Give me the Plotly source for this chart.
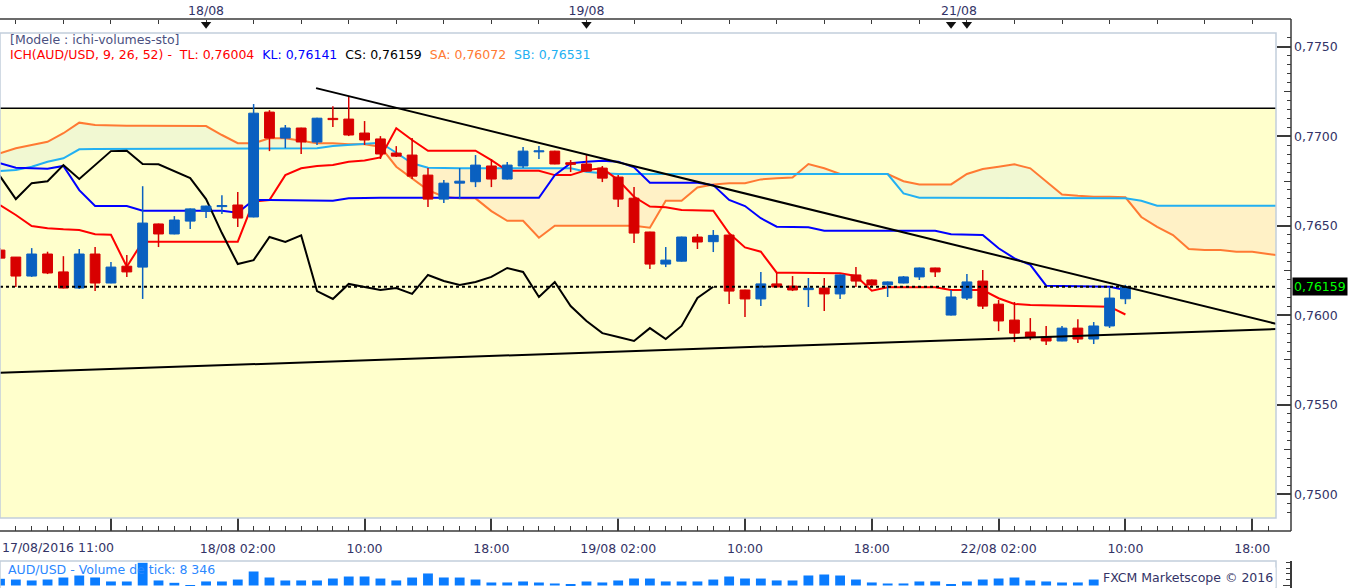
import plotly.graph_objects as go

# AUD/USD hourly candles, index 0 = 18/08 02:00 (weekend hours removed)
hour_index = list(range(-15, 57))
open_ = [0.76364, 0.76325, 0.76219, 0.76342, 0.76242, 0.76152, 0.76342, 0.76180, 0.76274, 0.76269,
         0.76510, 0.76454, 0.76526, 0.76582, 0.76607, 0.76616, 0.76549, 0.77135, 0.76990, 0.77046,
         0.76968, 0.77100, 0.77096, 0.77018, 0.76985, 0.76906, 0.76895, 0.76783, 0.76649, 0.76738,
         0.76746, 0.76834, 0.76761, 0.76834, 0.76913, 0.76917, 0.76852, 0.76845, 0.76822, 0.76772,
         0.76654, 0.76465, 0.76286, 0.76302, 0.76437, 0.76411, 0.76448, 0.76141, 0.76091, 0.76175,
         0.76163, 0.76143, 0.76152, 0.76119, 0.76225, 0.76197, 0.76170, 0.76180, 0.76214, 0.76264,
         0.76001, 0.76096, 0.76191, 0.76062, 0.75973, 0.75906, 0.75878, 0.75856, 0.75928, 0.75867,
         0.75940, 0.76092]
high = [0.76375, 0.76325, 0.76375, 0.76355, 0.76330, 0.76370, 0.76381, 0.76297, 0.76336, 0.76721,
        0.76512, 0.76554, 0.76596, 0.76612, 0.76671, 0.76688, 0.77180, 0.77146, 0.77063, 0.77048,
        0.77104, 0.77168, 0.77224, 0.77085, 0.77001, 0.76945, 0.76990, 0.76822, 0.76755, 0.76822,
        0.76895, 0.76873, 0.76856, 0.76940, 0.76945, 0.76919, 0.76867, 0.76895, 0.76834, 0.76783,
        0.76716, 0.76467, 0.76381, 0.76439, 0.76454, 0.76476, 0.76450, 0.76143, 0.76242, 0.76236,
        0.76219, 0.76208, 0.76208, 0.76227, 0.76269, 0.76199, 0.76188, 0.76219, 0.76266, 0.76266,
        0.76141, 0.76230, 0.76253, 0.76085, 0.76074, 0.75984, 0.75940, 0.75940, 0.75978, 0.75962,
        0.76152, 0.76170]
low = [0.76314, 0.76158, 0.76214, 0.76230, 0.76150, 0.76147, 0.76135, 0.76178, 0.76214, 0.76091,
       0.76381, 0.76452, 0.76482, 0.76543, 0.76566, 0.76493, 0.76547, 0.76917, 0.76934, 0.76901,
       0.76951, 0.77052, 0.77001, 0.76951, 0.76873, 0.76884, 0.76761, 0.76605, 0.76627, 0.76649,
       0.76716, 0.76716, 0.76759, 0.76822, 0.76873, 0.76843, 0.76800, 0.76803, 0.76744, 0.76605,
       0.76403, 0.76258, 0.76269, 0.76300, 0.76370, 0.76353, 0.76063, 0.75990, 0.76051, 0.76156,
       0.76135, 0.76046, 0.76024, 0.76091, 0.76158, 0.76158, 0.76102, 0.76178, 0.76197, 0.76214,
       0.75999, 0.76085, 0.76035, 0.75911, 0.75850, 0.75861, 0.75833, 0.75854, 0.75845, 0.75839,
       0.75929, 0.76062]
close = [0.76319, 0.76219, 0.76342, 0.76236, 0.76152, 0.76342, 0.76180, 0.76269, 0.76242, 0.76515,
         0.76454, 0.76532, 0.76594, 0.76610, 0.76613, 0.76543, 0.77129, 0.76990, 0.77046, 0.76968,
         0.77101, 0.77093, 0.77007, 0.76979, 0.76901, 0.76889, 0.76777, 0.76649, 0.76738, 0.76749,
         0.76839, 0.76761, 0.76839, 0.76917, 0.76919, 0.76845, 0.76843, 0.76805, 0.76766, 0.76649,
         0.76459, 0.76286, 0.76308, 0.76437, 0.76409, 0.76446, 0.76135, 0.76091, 0.76175, 0.76158,
         0.76141, 0.76152, 0.76119, 0.76225, 0.76191, 0.76169, 0.76186, 0.76214, 0.76264, 0.76242,
         0.76102, 0.76186, 0.76051, 0.75968, 0.75900, 0.75878, 0.75856, 0.75928, 0.75867, 0.75940,
         0.76096, 0.76159]
tick_volume = [9312, 8274, 6985, 8310, 11096, 13870, 11150, 5620, 5580, 31520,
               7010, 3720, 690, 5640, 5590, 8290, 19480, 11120, 6970, 7030,
               6990, 9710, 12480, 12530, 9690, 7020, 11080, 16720, 11130, 11060,
               8320, 4190, 4230, 5610, 4170, 2810, 720, 5580, 4210, 6980,
               9730, 9680, 5630, 5570, 5620, 8280, 12510, 9720, 9660, 7040,
               6960, 13910, 15290, 13880, 8310, 4220, 2790, 2830, 5600, 5640,
               710, 5590, 8330, 9700, 11110, 6990, 5610, 4180, 4240, 8290,
               12470, 8346]

# Ichimoku lines (TL / KL on candle index, SA / SB shifted 26 hours ahead)
tenkan = [0.76616, 0.76560, 0.76498, 0.76486, 0.76480, 0.76476, 0.76452, 0.76450, 0.76271, 0.76411,
          0.76411, 0.76411, 0.76411, 0.76411, 0.76411, 0.76411, 0.76636, 0.76644, 0.76783, 0.76821,
          0.76834, 0.76839, 0.76858, 0.76865, 0.76882, 0.77045, 0.76979, 0.76919, 0.76919, 0.76919,
          0.76919, 0.76867, 0.76807, 0.76807, 0.76807, 0.76783, 0.76783, 0.76811, 0.76821, 0.76755,
          0.76662, 0.76607, 0.76603, 0.76588, 0.76584, 0.76584, 0.76458, 0.76379, 0.76355, 0.76238,
          0.76238, 0.76238, 0.76238, 0.76234, 0.76219, 0.76137, 0.76156, 0.76156, 0.76156, 0.76156,
          0.76141, 0.76141, 0.76141, 0.76095, 0.76063, 0.76057, 0.76055, 0.76051, 0.76048, 0.76048,
          0.76048, 0.76004]
kijun = [0.76849, 0.76824, 0.76821, 0.76819, 0.76834, 0.76699, 0.76610, 0.76610, 0.76610, 0.76584,
         0.76584, 0.76584, 0.76584, 0.76584, 0.76584, 0.76573, 0.76644, 0.76644, 0.76644, 0.76644,
         0.76644, 0.76640, 0.76653, 0.76656, 0.76656, 0.76656, 0.76656, 0.76656, 0.76656, 0.76656,
         0.76656, 0.76656, 0.76656, 0.76656, 0.76656, 0.76783, 0.76849, 0.76858, 0.76863, 0.76858,
         0.76826, 0.76740, 0.76740, 0.76740, 0.76740, 0.76727, 0.76644, 0.76610, 0.76542, 0.76495,
         0.76495, 0.76491, 0.76472, 0.76472, 0.76472, 0.76472, 0.76472, 0.76472, 0.76472, 0.76472,
         0.76452, 0.76448, 0.76448, 0.76374, 0.76318, 0.76281, 0.76165, 0.76163, 0.76163, 0.76163,
         0.76159, 0.76141]
cloud_index = list(range(-15, 67))
senkou_a = [0.76905, 0.76933, 0.76951, 0.76969, 0.77017, 0.77076, 0.77063, 0.77059, 0.77059, 0.77059,
            0.77059, 0.77059, 0.77059, 0.77057, 0.77007, 0.76961, 0.76961, 0.76989, 0.76989, 0.76975,
            0.76961, 0.76961, 0.76955, 0.76955, 0.76942, 0.76830, 0.76765, 0.76699, 0.76662, 0.76653,
            0.76653, 0.76582, 0.76528, 0.76528, 0.76433, 0.76500, 0.76500, 0.76500, 0.76500, 0.76500,
            0.76500, 0.76489, 0.76640, 0.76640, 0.76714, 0.76731, 0.76737, 0.76737, 0.76759, 0.76765,
            0.76770, 0.76845, 0.76821, 0.76789, 0.76789, 0.76789, 0.76789, 0.76749, 0.76731, 0.76731,
            0.76731, 0.76789, 0.76817, 0.76830, 0.76843, 0.76821, 0.76746, 0.76675, 0.76667, 0.76662,
            0.76662, 0.76659, 0.76549, 0.76494, 0.76448, 0.76370, 0.76364, 0.76364, 0.76355, 0.76355,
            0.76342, 0.76330]
senkou_b = [0.76806, 0.76811, 0.76830, 0.76858, 0.76877, 0.76927, 0.76929, 0.76929, 0.76929, 0.76929,
            0.76929, 0.76929, 0.76929, 0.76929, 0.76929, 0.76929, 0.76929, 0.76929, 0.76929, 0.76929,
            0.76933, 0.76945, 0.76951, 0.76956, 0.76964, 0.76908, 0.76849, 0.76824, 0.76821, 0.76821,
            0.76821, 0.76821, 0.76821, 0.76821, 0.76821, 0.76821, 0.76821, 0.76802, 0.76793, 0.76789,
            0.76789, 0.76789, 0.76789, 0.76789, 0.76789, 0.76789, 0.76789, 0.76789, 0.76789, 0.76789,
            0.76789, 0.76789, 0.76789, 0.76789, 0.76789, 0.76789, 0.76789, 0.76681, 0.76656, 0.76656,
            0.76656, 0.76656, 0.76656, 0.76656, 0.76656, 0.76656, 0.76656, 0.76656, 0.76656, 0.76656,
            0.76656, 0.76653, 0.76640, 0.76612, 0.76612, 0.76612, 0.76612, 0.76612, 0.76612, 0.76612,
            0.76612, 0.76612]
chikou_shift = 26

# drawn objects
resistance = 0.77157
last_price = 0.76159
trend_down_x = [4.94, 65.5]
trend_down_y = [0.77269, 0.75952]
trend_up_x = [-15, 65.5]
trend_up_y = [0.75678, 0.75923]

# axis labels
time_ticks = [-8, 0, 8, 16, 24, 32, 40, 48, 56, 64]
time_labels = ['', '18/08 02:00', '10:00', '18:00', '19/08 02:00', '10:00', '18:00',
               '22/08 02:00', '10:00', '18:00']
first_label = '17/08/2016 11:00'
day_ticks = [-2, 22, 45.5]
day_labels = ['18/08', '19/08', '21/08']
day_markers = [-2, 22, 45, 46]
legend_values = {'TL': '0,76004', 'KL': '0,76141', 'CS': '0,76159', 'SA': '0,76072', 'SB': '0,76531'}

RED = '#D80000'
BLUE = '#0A60C0'
TXT = '#333366'
DARK = '#3a3a3a'
FRAME = '#C2CEDC'
FONT = 'DejaVu Sans'
FS = 12.5

X_RANGE = [-15, 65.5]
Y_RANGE = [0.74867, 0.77577]
VOL_RANGE = [-3475, 34055]


def px_x(px):
    return px / 1291


def px_y(py):
    return (588 - py) / 569


XD = px_x(1276)
P_TOP = px_y(33)
P_BOT = px_y(518)
P_AXIS = px_y(531)
P_VOL = px_y(561)

fig = go.Figure()

# cloud
cloud_hi = [max(a, b) for a, b in zip(senkou_a, senkou_b)]
cloud_lo = [min(a, b) for a, b in zip(senkou_a, senkou_b)]
fig.add_trace(go.Scatter(x=cloud_index, y=senkou_b, mode='lines', line=dict(width=0)))
fig.add_trace(go.Scatter(x=cloud_index, y=cloud_hi, mode='lines', line=dict(width=0),
                         fill='tonexty', fillcolor='#F1F8D2'))
fig.add_trace(go.Scatter(x=cloud_index, y=senkou_b, mode='lines', line=dict(width=0)))
fig.add_trace(go.Scatter(x=cloud_index, y=cloud_lo, mode='lines', line=dict(width=0),
                         fill='tonexty', fillcolor='#FFF1C6'))

fig.add_trace(go.Scatter(x=cloud_index, y=senkou_a, mode='lines', line=dict(color='#FF7A33', width=2)))
fig.add_trace(go.Scatter(x=cloud_index, y=senkou_b, mode='lines', line=dict(color='#22B0F2', width=2)))
fig.add_trace(go.Scatter(x=hour_index, y=tenkan, mode='lines', line=dict(color='#FF0000', width=2)))
fig.add_trace(go.Scatter(x=hour_index, y=kijun, mode='lines', line=dict(color='#0000FF', width=2)))
fig.add_trace(go.Scatter(x=[k - chikou_shift for k in hour_index], y=close, mode='lines',
                         line=dict(color='black', width=2)))

# candles on an overlay axis so they sit above the indicator lines
rising = [c >= o for o, c in zip(open_, close)]
colors = [BLUE if r else RED for r in rising]
fig.add_trace(go.Bar(x=hour_index, y=[abs(c - o) for o, c in zip(open_, close)],
                     base=[min(o, c) for o, c in zip(open_, close)], width=0.62,
                     marker=dict(color=colors, line=dict(color=colors, width=1)),
                     yaxis='y2'))
for col, want in ((RED, False), (BLUE, True)):
    wx, wy = [], []
    for k, h, l, r in zip(hour_index, high, low, rising):
        if r == want:
            wx += [k, k, None]
            wy += [l, h, None]
    fig.add_trace(go.Scatter(x=wx, y=wy, mode='lines', line=dict(color=col, width=1.5), yaxis='y2'))

# volume panel
fig.add_trace(go.Bar(x=hour_index, y=tick_volume, width=0.62, marker=dict(color='#0A7CFF', line=dict(width=0)),
                     xaxis='x2', yaxis='y3'))

# day markers on the top scale
fig.add_trace(go.Scatter(x=day_markers, y=[0.62] * len(day_markers), mode='markers',
                         marker=dict(symbol='triangle-down', size=9, color='#111111'),
                         yaxis='y4', cliponaxis=False))
fig.add_trace(go.Scatter(x=[None], y=[None], xaxis='x3', yaxis='y'))
fig.add_trace(go.Scatter(x=[None], y=[None], yaxis='y5'))

shapes = [
    dict(type='rect', xref='x domain', yref='y', x0=0, x1=1, y0=Y_RANGE[0], y1=resistance,
         fillcolor='#FFFFCC', line=dict(width=0), layer='below'),
    dict(type='line', xref='x domain', yref='y', x0=0, x1=1, y0=resistance, y1=resistance,
         line=dict(color='black', width=1.5), layer='below'),
    dict(type='line', xref='x', yref='y', x0=trend_down_x[0], x1=trend_down_x[1],
         y0=trend_down_y[0], y1=trend_down_y[1], line=dict(color='black', width=2)),
    dict(type='line', xref='x', yref='y', x0=trend_up_x[0], x1=trend_up_x[1],
         y0=trend_up_y[0], y1=trend_up_y[1], line=dict(color='black', width=2)),
    dict(type='line', xref='x domain', yref='y', x0=0, x1=1, y0=last_price, y1=last_price,
         line=dict(color='black', width=2, dash='3px,3px')),
    # frames
    dict(type='rect', xref='paper', yref='paper', x0=0, x1=XD, y0=P_BOT, y1=P_TOP,
         line=dict(color=FRAME, width=1.5)),
    dict(type='rect', xref='paper', yref='paper', x0=0, x1=XD, y0=-0.01, y1=P_VOL,
         line=dict(color=FRAME, width=1.5)),
    dict(type='line', xref='paper', yref='paper', x0=0, x1=1, y0=1, y1=1, line=dict(color=DARK, width=1.5)),
    dict(type='line', xref='paper', yref='paper', x0=0, x1=1, y0=P_AXIS, y1=P_AXIS,
         line=dict(color=DARK, width=1.5)),
    dict(type='line', xref='paper', yref='paper', x0=1, x1=1, y0=P_AXIS, y1=1, line=dict(color=DARK, width=1.5)),
]

legend_line = (
    f"<span style='color:#FF0000'>ICH(AUD/USD, 9, 26, 52) -&nbsp;&nbsp;TL: {legend_values['TL']}</span>&nbsp;&nbsp;"
    f"<span style='color:#0000FF'>KL: {legend_values['KL']}</span>&nbsp;&nbsp;"
    f"<span style='color:#000000'>CS: {legend_values['CS']}</span>&nbsp;&nbsp;"
    f"<span style='color:#FF7A33'>SA: {legend_values['SA']}</span>&nbsp;&nbsp;"
    f"<span style='color:#22B0F2'>SB: {legend_values['SB']}</span>"
)
annotations = [
    dict(text='[Modele : ichi-volumes-sto]', xref='paper', yref='paper', x=px_x(8), y=px_y(40),
         xanchor='left', yanchor='middle', showarrow=False, font=dict(color='#4A5080', size=FS)),
    dict(text=legend_line, xref='paper', yref='paper', x=px_x(8), y=px_y(54),
         xanchor='left', yanchor='middle', showarrow=False, font=dict(size=FS)),
    dict(text=first_label, xref='paper', yref='paper', x=0, y=px_y(547),
         xanchor='left', yanchor='middle', showarrow=False, font=dict(color=TXT, size=FS)),
    dict(text=f'{last_price:.5f}'.replace('.', ','), xref='paper', yref='y', x=1.001, y=last_price,
         xanchor='left', yanchor='middle', showarrow=False, bgcolor='black', borderpad=1,
         font=dict(color='#00FF00', size=FS)),
    dict(text=f'AUD/USD - Volume de tick: {tick_volume[-1]:,}'.replace(',', ' '), xref='paper', yref='paper',
         x=px_x(6), y=px_y(569), xanchor='left', yanchor='middle', showarrow=False,
         font=dict(color='#2B88FF', size=FS)),
    dict(text='FXCM Marketscope © 2016', xref='paper', yref='paper', x=XD, y=0,
         xanchor='right', yanchor='bottom', showarrow=False, bgcolor='white', borderpad=2,
         font=dict(color=TXT, size=FS)),
]

fig.update_layout(
    width=1349, height=588,
    margin=dict(l=0, r=58, t=19, b=0, pad=0),
    paper_bgcolor='white', plot_bgcolor='white',
    separators=', ',
    showlegend=False,
    barmode='overlay',
    hovermode=False,
    font=dict(family=FONT, size=FS, color=TXT),
    shapes=shapes,
    annotations=annotations,
    xaxis=dict(domain=[0, XD], range=X_RANGE, anchor='free', position=P_AXIS, side='bottom',
               tickmode='array', tickvals=time_ticks, ticktext=time_labels,
               ticks='inside', ticklen=13, tickcolor=DARK, tickwidth=1.5,
               minor=dict(tickmode='linear', tick0=0, dtick=1, ticks='inside', ticklen=5,
                          tickcolor=DARK, tickwidth=1),
               ticklabelstandoff=8, tickfont=dict(color=TXT, size=FS),
               showgrid=False, zeroline=False, showline=False),
    xaxis2=dict(matches='x', domain=[0, XD], anchor='y3', visible=False),
    xaxis3=dict(overlaying='x', matches='x', side='top', anchor='free', position=1,
                tickmode='array', tickvals=day_ticks, ticktext=day_labels,
                ticks='inside', ticklen=0, tickcolor=DARK,
                minor=dict(tickmode='linear', tick0=-2, dtick=3, ticks='inside', ticklen=4,
                           tickcolor=DARK, tickwidth=1),
                ticklabelstandoff=2, tickfont=dict(color=TXT, size=FS),
                showgrid=False, zeroline=False, showline=False),
    yaxis=dict(domain=[P_BOT, P_TOP], range=Y_RANGE, anchor='free', position=1, side='right',
               tick0=0.75, dtick=0.005, tickformat='.4f',
               ticks='inside', ticklen=14, tickcolor=DARK, tickwidth=1.5,
               minor=dict(tickmode='linear', tick0=0.75, dtick=0.0005, ticks='inside', ticklen=4,
                          tickcolor=DARK, tickwidth=1),
               tickfont=dict(color=TXT, size=FS), ticklabelstandoff=2,
               showgrid=False, zeroline=False, showline=False),
    yaxis2=dict(overlaying='y', range=Y_RANGE, anchor='x', visible=False),
    yaxis3=dict(domain=[0, P_VOL], range=VOL_RANGE, anchor='free', position=1, side='right',
                tickmode='array', tickvals=[0], ticktext=['0'],
                ticks='inside', ticklen=7, tickcolor=DARK,
                minor=dict(tickmode='linear', tick0=0, dtick=8000, ticks='inside', ticklen=4, tickcolor=DARK),
                tickfont=dict(color=TXT, size=FS), ticklabelstandoff=2,
                showgrid=False, zeroline=False, showline=True, linecolor=DARK, linewidth=1.5),
    yaxis4=dict(domain=[P_TOP, 1], range=[0, 1], anchor='x', visible=False),
    yaxis5=dict(overlaying='y', range=Y_RANGE, anchor='free', position=1, side='right',
                tick0=0.7525, dtick=0.005, ticks='inside', ticklen=7, tickcolor=DARK,
                showticklabels=False, showgrid=False, zeroline=False, showline=False),
)

# the page body has a default 8px margin; drop it so the chart fills the window exactly
fig.write_html('out.html', config={'displayModeBar': False},
               post_script="document.body.style.margin='0px';")
